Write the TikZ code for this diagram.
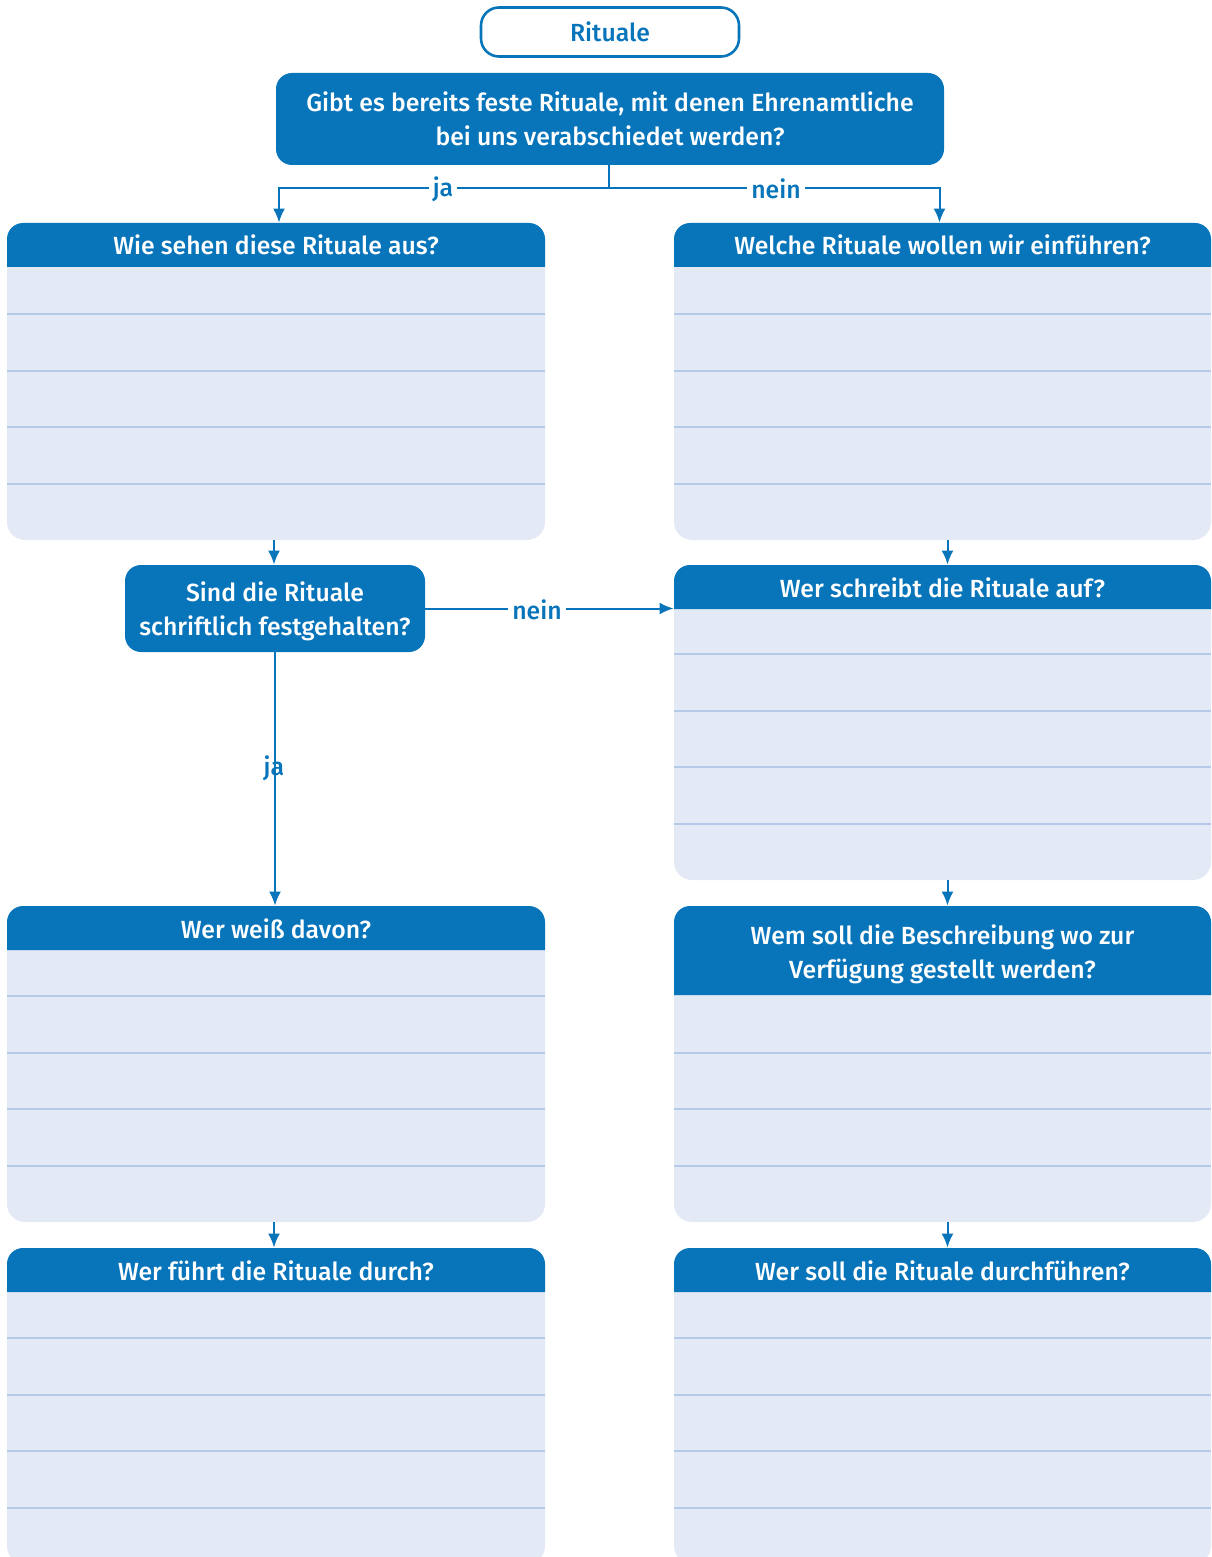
\documentclass[tikz,border=0pt]{standalone}
\usepackage{fontspec}
\setmainfont{Fira Sans}[UprightFont={* Medium},BoldFont={* SemiBold}]
\usetikzlibrary{arrows.meta,fit}
\definecolor{mainblue}{HTML}{0875BB}
\definecolor{paneltint}{HTML}{E3E9F5}
\definecolor{rulecol}{HTML}{B5C9E8}
\tikzset{
  rulel/.style={draw=rulecol, line width=1pt},
  head/.style={text=white, font=\fontsize{12.4}{17}\selectfont, align=center, inner sep=0},
  decide/.style={fill=mainblue, rounded corners=8pt, text=white, font=\fontsize{12.4}{17}\selectfont, align=center, inner sep=0},
  conn/.style={draw=mainblue, line width=1pt},
  arr/.style={conn, -{Latex[length=7pt,width=6pt]}},
  lbl/.style={text=mainblue, font=\fontsize{12.4}{14}\selectfont, inner sep=2pt},
}
\newcommand\panelbox[9][0]{%
  \fill[paneltint, rounded corners=9pt] (#3,#4) rectangle (#5,#6);
  \foreach \k in {1,...,#8} \draw[rulel] (#3,#6-56.5*\k) -- (#5,#6-56.5*\k);
  \fill[mainblue] (#3,#7) [rounded corners=8pt]-- (#3,#4) -- (#5,#4) [sharp corners]-- (#5,#7) -- cycle;
  \node[head] (#2h) at ({(#3+#5)/2},{(#4+#7)/2+#1}) {#9};
  \node[inner sep=0, fit={(#3,#4) (#5,#6)}] (#2) {};
}
\begin{document}
\begin{tikzpicture}[x=0.5pt,y=-0.5pt]
\useasboundingbox (0,0) rectangle (1211,1557);
% title
\node[draw=mainblue, line width=1.3pt, fill=white, rounded corners=9pt, minimum width=129pt, minimum height=24.5pt, text=mainblue, font=\fontsize{12.4}{14}\selectfont] (title) at (610,32) {Rituale};
% main question
\node[decide, minimum width=334pt, minimum height=46pt] (q) at (610,119) {Gibt es bereits feste Rituale, mit denen Ehrenamtliche\\bei uns verabschiedet werden?};
% panels
\panelbox{p1}{7}{223}{545}{540}{267}{4}{Wie sehen diese Rituale aus?}
\panelbox{r1}{674}{223}{1211}{540}{267}{4}{Welche Rituale wollen wir einführen?}
\panelbox[1]{r2}{674}{565}{1211}{880}{609}{4}{Wer schreibt die Rituale auf?}
\panelbox[1]{p3}{7}{906}{545}{1222}{950}{4}{Wer weiß davon?}
\panelbox[4]{r3}{674}{906}{1211}{1222}{995}{3}{Wem soll die Beschreibung wo zur\\Verfügung gestellt werden?}
\panelbox[1]{p4}{7}{1248}{545}{1564}{1292}{4}{Wer führt die Rituale durch?}
\panelbox[1]{r4}{674}{1248}{1211}{1564}{1292}{4}{Wer soll die Rituale durchführen?}
% decision
\node[decide, minimum width=150pt, minimum height=43.5pt] (d1) at (275,608.5) {};
\node[text=white, font=\fontsize{12.4}{17}\selectfont, align=center, inner sep=0] (d1t) at (275,611) {Sind die Rituale\\schriftlich festgehalten?};
% connectors
\coordinate (split) at (609,188);
\draw[conn] (q.south -| split) -- (split);
\draw[arr] (split) -| ([xshift=1.5pt]p1.north);
\draw[arr] (split) -| ([xshift=-1.5pt]r1.north);
\node[lbl, fill=white] (lja) at (443,189) {ja};
\node[lbl, fill=white] (lnein) at (776,189) {nein};
\draw[arr] ([xshift=-1pt]p1.south) -- ([xshift=-1pt]p1.south |- d1.north);
\draw[arr] (d1.east) -- (d1.east -| r2.west);
\node[lbl, fill=white] (lnein2) at (537,610) {nein};
\draw[arr] (d1.south) -- (d1.south |- p3.north);
\node[lbl] (lja2) at (274,768) {ja};
\draw[arr] ([xshift=2.5pt]r1.south) -- ([xshift=2.5pt]r1.south |- r2.north);
\draw[arr] ([xshift=2.5pt]r2.south) -- ([xshift=2.5pt]r2.south |- r3.north);
\draw[arr] ([xshift=-1pt]p3.south) -- ([xshift=-1pt]p3.south |- p4.north);
\draw[arr] ([xshift=2.5pt]r3.south) -- ([xshift=2.5pt]r3.south |- r4.north);
\end{tikzpicture}
\end{document}
